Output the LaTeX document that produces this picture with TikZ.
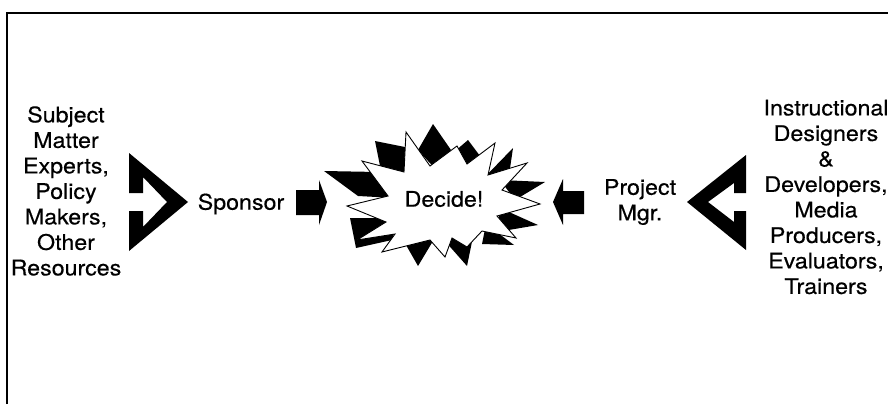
\documentclass[tikz,border=0pt]{standalone}
\usepackage{fontspec}
\setmainfont[FakeStretch=1.08,FakeBold=0.4]{TeX Gyre Heros}
\begin{document}
\begin{tikzpicture}[x=1pt,y=-1pt,
  lbl/.style={font=\fontsize{21.5}{25.5}\selectfont, align=center, inner sep=0pt},
  blk/.style={fill=black, draw=none},
  burst/.style={fill=white, draw=black, line width=0.9pt, line join=miter}]
\useasboundingbox (0,0) rectangle (888,404);
% frame
\draw[line width=2.2pt] (7,404) -- (7,13) -- (888,13);

% texts
\node[lbl] (sme) at (66,191) {Subject\\Matter\\Experts,\\Policy\\Makers,\\Other\\Resources};
\node[lbl] (sponsor) at (241,204) {Sponsor};
\node[lbl] (pm) at (640,202) {Project\\Mgr.};
\node[lbl] (team) at (826,197) {Instructional\\Designers\\\&\\Developers,\\Media\\Producers,\\Evaluators,\\Trainers};

% left chevron
\fill[blk] (129,153) -- (188,202) -- (129,251) -- (129,211) -- (143,211) -- (143,227)
  -- (167,202) -- (143,177) -- (143,193) -- (129,193) -- cycle;
% right chevron
\fill[blk] (746,155) -- (687,202) -- (746,250) -- (746,211) -- (734,211) -- (734,222)
  -- (708,202) -- (734,183) -- (734,193) -- (746,193) -- cycle;

% block arrows
\fill[blk] (296,190) -- (319,190) -- (319,180) -- (327,202) -- (319,225) -- (319,215) -- (296,215) -- cycle;
\fill[blk] (584,191) -- (563,191) -- (563,179) -- (553,202) -- (563,225) -- (563,214) -- (584,214) -- cycle;

% black shadow spikes
\fill[blk] (324,171) -- (378,172) -- (395,198) -- (358,196) -- cycle;
\fill[blk] (375,141) -- (410,148) -- (412,178) -- (382,176) -- cycle;
\fill[blk] (433,124) -- (451,150) -- (438,172) -- (418,150) -- cycle;
\fill[blk] (468,140) -- (483,160) -- (466,173) -- (454,152) -- cycle;
\fill[blk] (513,148) -- (508,182) -- (480,182) -- cycle;
\fill[blk] (545,182) -- (515,200) -- (500,180) -- cycle;
\fill[blk] (538,225) -- (497,232) -- (500,208) -- cycle;
\fill[blk] (514,245) -- (482,244) -- (486,224) -- cycle;
\fill[blk] (467,266) -- (444,240) -- (474,232) -- cycle;
\fill[blk] (418,266) -- (402,238) -- (436,236) -- cycle;
\fill[blk] (350,218) -- (398,218) -- (392,240) -- (356,248) -- cycle;

% white burst
\filldraw[burst] (347,206) -- (388,196) -- (362,161) -- (404,172) -- (406,132) -- (430,166)
  -- (457,146) -- (467,164) -- (495,143) -- (488,175) -- (527,163) -- (502,190)
  -- (540,204) -- (497,216) -- (516,238) -- (482,231) -- (467,247) -- (452,238)
  -- (445,257) -- (430,240) -- (382,252) -- (395,234) -- (357,240) -- (386,222) -- cycle;

\node[lbl] (decide) at (444,199) {Decide!};
\end{tikzpicture}
\end{document}
